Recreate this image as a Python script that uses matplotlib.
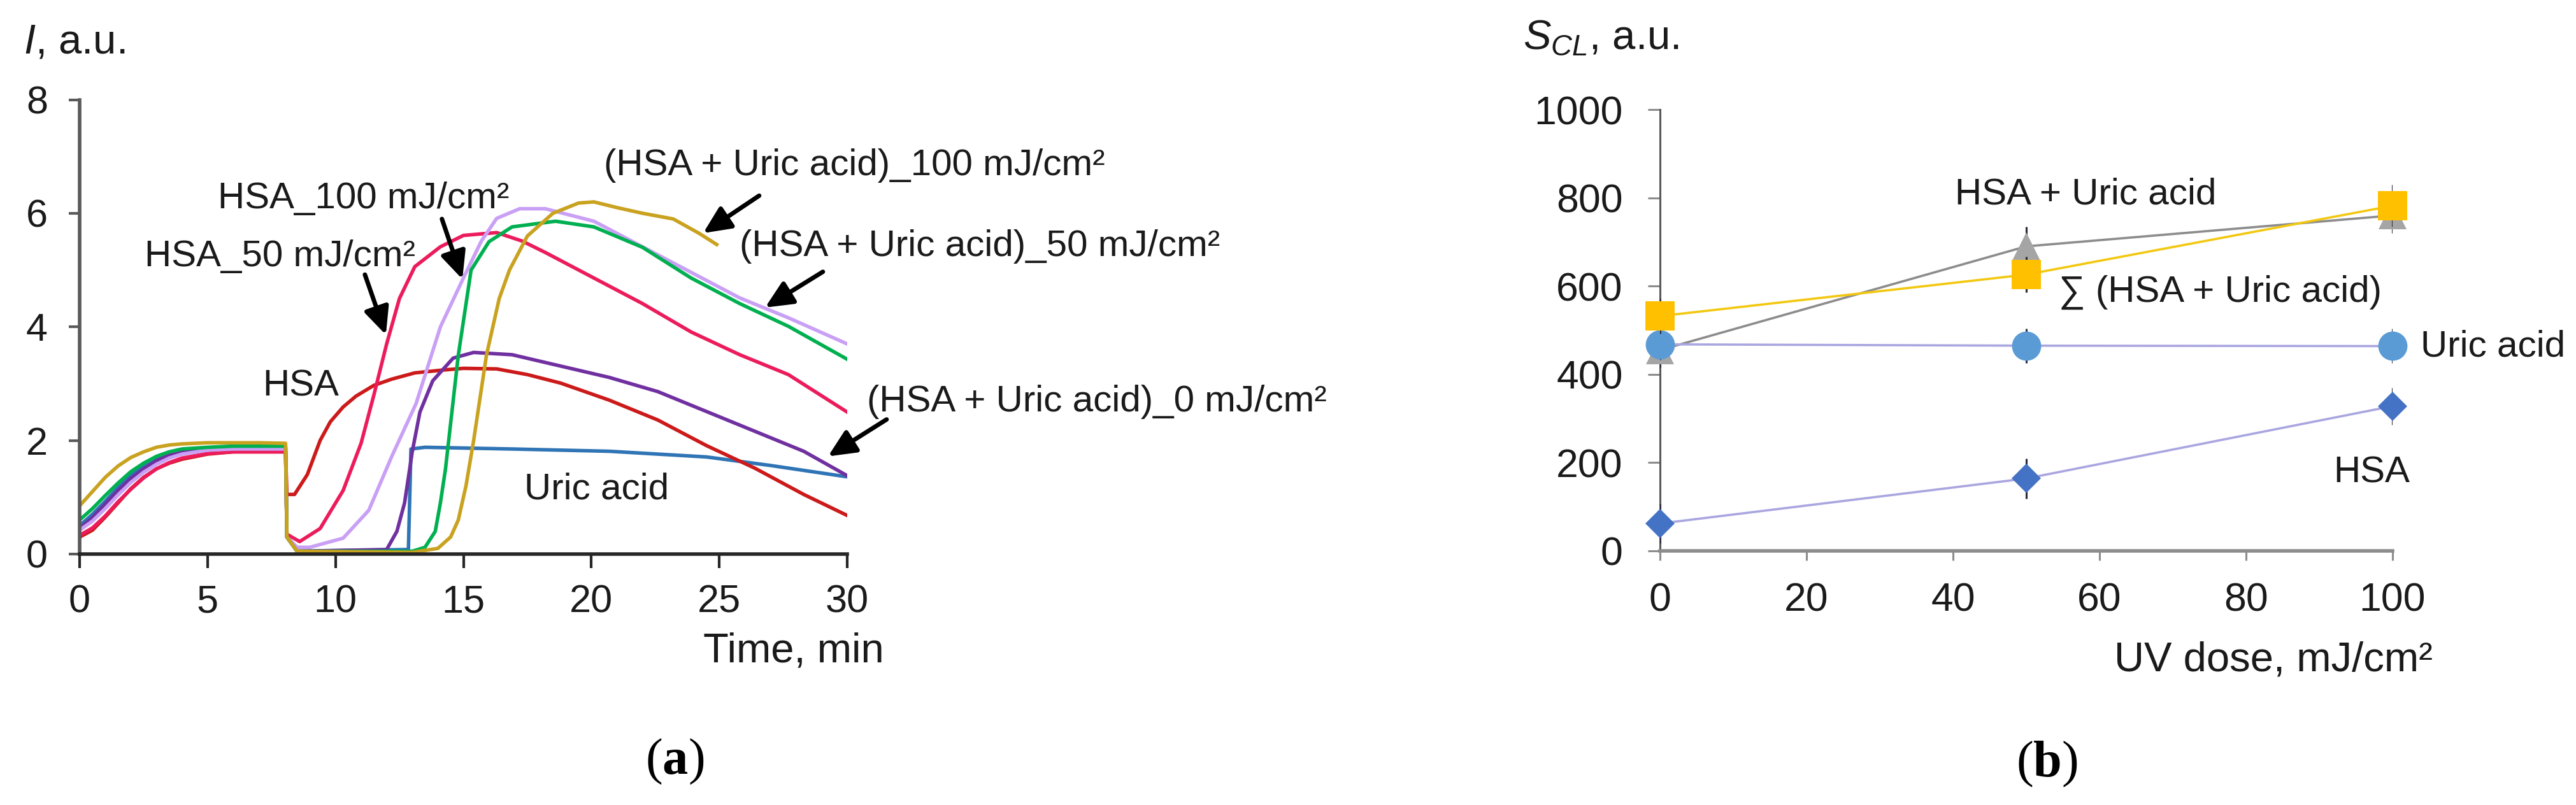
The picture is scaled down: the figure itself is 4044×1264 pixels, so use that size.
import matplotlib
matplotlib.use("Agg")
import matplotlib.pyplot as plt

plt.rcParams['font.family'] = ['Liberation Sans', 'DejaVu Sans']
plt.rcParams['mathtext.fontset'] = 'custom'
plt.rcParams['mathtext.rm'] = 'Liberation Sans'
plt.rcParams['mathtext.it'] = 'Liberation Sans:italic'
plt.rcParams['mathtext.bf'] = 'Liberation Serif:bold'

# ---------------- Panel (a): chemiluminescence kinetics ----------------
UA_T = [0, 0.5, 1, 1.5, 2, 2.5, 3, 3.5, 4, 5, 6, 7, 8.05, 8.1, 8.5, 12.85, 12.95, 13.5, 16.9, 20.7, 24.5, 27.0, 30]
UA_I = [0.5, 0.7, 0.93, 1.17, 1.38, 1.55, 1.68, 1.77, 1.82, 1.87, 1.88, 1.88, 1.88, 0.3, 0.05, 0.08, 1.85, 1.88, 1.85, 1.81, 1.71, 1.56, 1.36]

HSA_T = [0, 0.5, 1, 1.5, 2, 2.5, 3, 3.5, 4, 5, 6, 7, 8.05, 8.1, 8.4, 8.9, 9.4, 9.8, 10.3, 10.8, 11.5, 12.2, 13.1, 14.2, 15.0, 16.3, 17.5, 18.8, 20.7, 22.6, 24.5, 26.4, 28.3, 30]
HSA_I = [0.3, 0.42, 0.65, 0.9, 1.15, 1.35, 1.5, 1.6, 1.67, 1.76, 1.8, 1.8, 1.8, 1.05, 1.05, 1.4, 2.0, 2.33, 2.59, 2.78, 2.97, 3.08, 3.19, 3.24, 3.27, 3.26, 3.16, 3.01, 2.71, 2.36, 1.91, 1.51, 1.05, 0.68]

MIX0_T = [0, 0.5, 1, 1.5, 2, 2.5, 3, 3.5, 4, 5, 6, 7, 8.05, 8.1, 8.5, 12.0, 12.4, 12.7, 13.0, 13.3, 13.8, 14.6, 15.4, 16.9, 18.8, 20.7, 22.6, 24.5, 26.4, 28.3, 30]
MIX0_I = [0.45, 0.64, 0.88, 1.12, 1.33, 1.5, 1.64, 1.74, 1.8, 1.85, 1.86, 1.86, 1.86, 0.3, 0.05, 0.08, 0.4, 0.9, 1.8, 2.5, 3.05, 3.45, 3.55, 3.51, 3.31, 3.11, 2.86, 2.51, 2.16, 1.81, 1.38]

HSA50_T = [0, 0.5, 1, 1.5, 2, 2.5, 3, 3.5, 4, 5, 6, 7, 8.05, 8.1, 8.6, 9.4, 10.3, 11.0, 11.5, 12.0, 12.5, 13.1, 14.1, 15.0, 16.3, 17.3, 18.2, 20.1, 22.0, 23.9, 25.8, 27.7, 30]
HSA50_I = [0.33, 0.46, 0.67, 0.92, 1.14, 1.34, 1.5, 1.61, 1.69, 1.77, 1.8, 1.8, 1.8, 0.35, 0.22, 0.45, 1.12, 1.95, 2.8, 3.7, 4.5, 5.06, 5.41, 5.61, 5.66, 5.51, 5.31, 4.86, 4.41, 3.91, 3.51, 3.16, 2.5]

HSA100_T = [0, 0.5, 1, 1.5, 2, 2.5, 3, 3.5, 4, 5, 6, 7, 8.05, 8.1, 8.5, 9.0, 10.3, 11.3, 12.2, 13.15, 14.1, 15.0, 15.7, 16.3, 17.2, 18.2, 20.1, 22.0, 23.9, 25.8, 27.7, 30]
HSA100_I = [0.42, 0.58, 0.8, 1.04, 1.26, 1.44, 1.58, 1.69, 1.76, 1.83, 1.85, 1.85, 1.85, 0.3, 0.12, 0.12, 0.28, 0.77, 1.72, 2.65, 4.0, 4.86, 5.51, 5.91, 6.08, 6.08, 5.86, 5.41, 4.96, 4.51, 4.16, 3.7]

MIX50_T = [0, 0.5, 1, 1.5, 2, 2.5, 3, 3.5, 4, 5, 6, 7, 8.05, 8.1, 8.5, 13.0, 13.5, 13.9, 14.1, 14.3, 14.8, 15.3, 16.0, 16.9, 18.6, 20.1, 22.0, 23.9, 25.8, 27.7, 30]
MIX50_I = [0.6, 0.8, 1.03, 1.25, 1.45, 1.6, 1.72, 1.8, 1.85, 1.88, 1.9, 1.9, 1.9, 0.3, 0.05, 0.05, 0.12, 0.4, 0.9, 1.5, 3.5, 5.0, 5.5, 5.76, 5.86, 5.76, 5.4, 4.86, 4.41, 4.01, 3.43]

MIX100_T = [0, 0.5, 1, 1.5, 2, 2.5, 3, 3.5, 4, 5, 6, 7, 8.05, 8.1, 8.5, 13.0, 14.0, 14.5, 14.8, 15.1, 15.4, 15.9, 16.4, 16.8, 17.5, 18.5, 19.5, 20.1, 21.0, 22.0, 23.2, 24.2, 24.9]
MIX100_I = [0.85, 1.1, 1.35, 1.55, 1.7, 1.8, 1.88, 1.92, 1.94, 1.96, 1.96, 1.96, 1.95, 0.3, 0.05, 0.03, 0.1, 0.3, 0.6, 1.2, 2.0, 3.5, 4.5, 5.0, 5.6, 6.0, 6.18, 6.2, 6.1, 6.0, 5.9, 5.65, 5.45]

A_XTICKS = [0, 5, 10, 15, 20, 25, 30]
A_YTICKS = [0, 2, 4, 6, 8]

# ---------------- Panel (b): light sum vs UV dose ----------------
DOSE = [0, 50, 100]
HSA_S = [62, 164, 328]
HSA_ERR = [45, 45, 42]
UA_S = [468, 465, 464]
UA_ERR = [35, 39, 39]
MIX_S = [455, 690, 760]
MIX_ERR = [40, 45, 40]
SUM_S = [532, 626, 782]
SUM_ERR = [40, 40, 48]
B_XTICKS = [0, 20, 40, 60, 80, 100]
B_YTICKS = [0, 200, 400, 600, 800, 1000]

W, H = 4044, 1264
fig = plt.figure(figsize=(W / 100, H / 100), dpi=100)
fig.patch.set_facecolor('white')

axL = fig.add_axes([125 / W, 1 - 870 / H, 1205 / W, 713.5 / H])
axR = fig.add_axes([2606 / W, 1 - 865 / H, 1150 / W, 693 / H])

TXT = '#1a1a1a'

# ---- left panel curves
traces = [
    (UA_T, UA_I, '#2F74B5'),
    (HSA_T, HSA_I, '#CC1A1A'),
    (MIX0_T, MIX0_I, '#7030A0'),
    (HSA50_T, HSA50_I, '#EC1C5C'),
    (HSA100_T, HSA100_I, '#C9A0F5'),
    (MIX50_T, MIX50_I, '#00B050'),
    (MIX100_T, MIX100_I, '#C9A21F'),
]
for t, i, c in traces:
    axL.plot(t, i, color=c, lw=4.0, solid_joinstyle='round')

axL.set_xlim(0, 30)
axL.set_ylim(0, 8)
axL.set_xticks(A_XTICKS)
axL.set_yticks(A_YTICKS)
for s in ['top', 'right']:
    axL.spines[s].set_visible(False)
axL.spines['left'].set_color('#595959')
axL.spines['left'].set_linewidth(4)
axL.spines['bottom'].set_color('#262626')
axL.spines['bottom'].set_linewidth(4)
axL.tick_params(axis='y', direction='out', length=12, width=3, color='#595959',
                pad=24, labelsize=44, labelcolor=TXT)
axL.tick_params(axis='x', direction='out', length=16, width=3, color='#262626',
                pad=18, labelsize=44, labelcolor=TXT)

ann_fs = 42
axL.text(5.4, 6.26, 'HSA_100 mJ/cm²', fontsize=ann_fs, color=TXT, ha='left', va='center')
axL.text(2.54, 5.24, 'HSA_50 mJ/cm²', fontsize=ann_fs, color=TXT, ha='left', va='center')
axL.text(7.14, 2.95, 'HSA', fontsize=ann_fs, color=TXT, ha='left', va='center')
axL.text(17.38, 1.14, 'Uric acid', fontsize=ann_fs, color=TXT, ha='left', va='center')
axL.text(20.49, 6.84, '(HSA + Uric acid)_100 mJ/cm²', fontsize=ann_fs, color=TXT, ha='left', va='center')
axL.text(25.79, 5.41, '(HSA + Uric acid)_50 mJ/cm²', fontsize=ann_fs, color=TXT, ha='left', va='center')
axL.text(30.77, 2.68, '(HSA + Uric acid)_0 mJ/cm²', fontsize=ann_fs, color=TXT, ha='left', va='center')

arrows = [
    ((11.15, 4.92), (11.97, 3.86)),
    ((14.16, 5.90), (14.96, 4.84)),
    ((26.56, 6.31), (24.37, 5.65)),
    ((29.05, 4.97), (26.79, 4.34)),
    ((31.54, 2.37), (29.25, 1.72)),
]
for tail, head in arrows:
    axL.annotate('', xy=head, xytext=tail, xycoords='data', textcoords='data',
                 annotation_clip=False,
                 arrowprops=dict(arrowstyle='-|>,head_length=1.3,head_width=0.6',
                                 lw=5, color='black', shrinkA=0, shrinkB=0,
                                 mutation_scale=20))

# ---- right panel
LAV = '#A9A6E0'
axR.plot(DOSE, HSA_S, color=LAV, lw=2.6, zorder=2)
axR.plot(DOSE, MIX_S, color='#8C8C8C', lw=2.6, zorder=2)
axR.plot(DOSE, UA_S, color=LAV, lw=2.6, zorder=2)
axR.plot(DOSE, SUM_S, color='#F2C811', lw=2.6, zorder=2)

series = [
    (HSA_S, HSA_ERR, 'D', '#4472C4', 23),
    (MIX_S, MIX_ERR, '^', '#A5A5A5', 32),
    (UA_S, UA_ERR, 'o', '#5B9BD5', 33),
    (SUM_S, SUM_ERR, 's', '#FFC000', 33),
]
z = 3
for vals, err, mk, col, ms in series:
    axR.errorbar(DOSE, vals, yerr=err, fmt='none', ecolor='#2b2b3a', elinewidth=2.2,
                 capsize=0, zorder=z)
    axR.plot(DOSE, vals, linestyle='none', marker=mk, color=col, markersize=ms,
             markeredgewidth=0, zorder=z + 0.5, clip_on=False)
    z += 1

axR.set_xlim(0, 100)
axR.set_ylim(0, 1000)
axR.set_xticks(B_XTICKS)
axR.set_yticks(B_YTICKS)
for s in ['top', 'right']:
    axR.spines[s].set_visible(False)
axR.spines['left'].set_color('#595959')
axR.spines['left'].set_linewidth(2.2)
axR.spines['bottom'].set_color('#8C8C8C')
axR.spines['bottom'].set_linewidth(4)
axR.tick_params(axis='y', direction='out', length=14, width=2.2, color='#8C8C8C',
                pad=28, labelsize=45, labelcolor=TXT)
axR.tick_params(axis='x', direction='out', length=11, width=2.2, color='#8C8C8C',
                pad=24, labelsize=45, labelcolor=TXT)

axR.text(40.3, 807, 'HSA + Uric acid', fontsize=ann_fs, color=TXT, ha='left', va='center')
axR.text(54.4, 586, '∑ (HSA + Uric acid)', fontsize=ann_fs, color=TXT, ha='left', va='center')
axR.text(103.8, 463, 'Uric acid', fontsize=ann_fs, color=TXT, ha='left', va='center')
axR.text(91.9, 177, 'HSA', fontsize=ann_fs, color=TXT, ha='left', va='center')

# ---- axis labels
fig.text(37 / W, 1 - 67 / H, r'$I$, a.u.', fontsize=47, color=TXT, ha='left', va='center')
fig.text(1388 / W, 1 - 1022 / H, 'Time, min', fontsize=47, color=TXT, ha='right', va='center')
fig.text(2391 / W, 1 - 60 / H, r'$S_{CL}$, a.u.', fontsize=47, color=TXT, ha='left', va='center')
fig.text(3819 / W, 1 - 1036 / H, 'UV dose, mJ/cm²', fontsize=47, color=TXT, ha='right', va='center')

# ---- captions
fig.text(1059 / W, 1 - 1196 / H, r'($\mathbf{a}$)', family='Liberation Serif', fontsize=58,
         color='black', ha='center', va='center')
fig.text(3213 / W, 1 - 1200 / H, r'($\mathbf{b}$)', family='Liberation Serif', fontsize=58,
         color='black', ha='center', va='center')

fig.savefig('out.png', dpi=100, facecolor='white')
